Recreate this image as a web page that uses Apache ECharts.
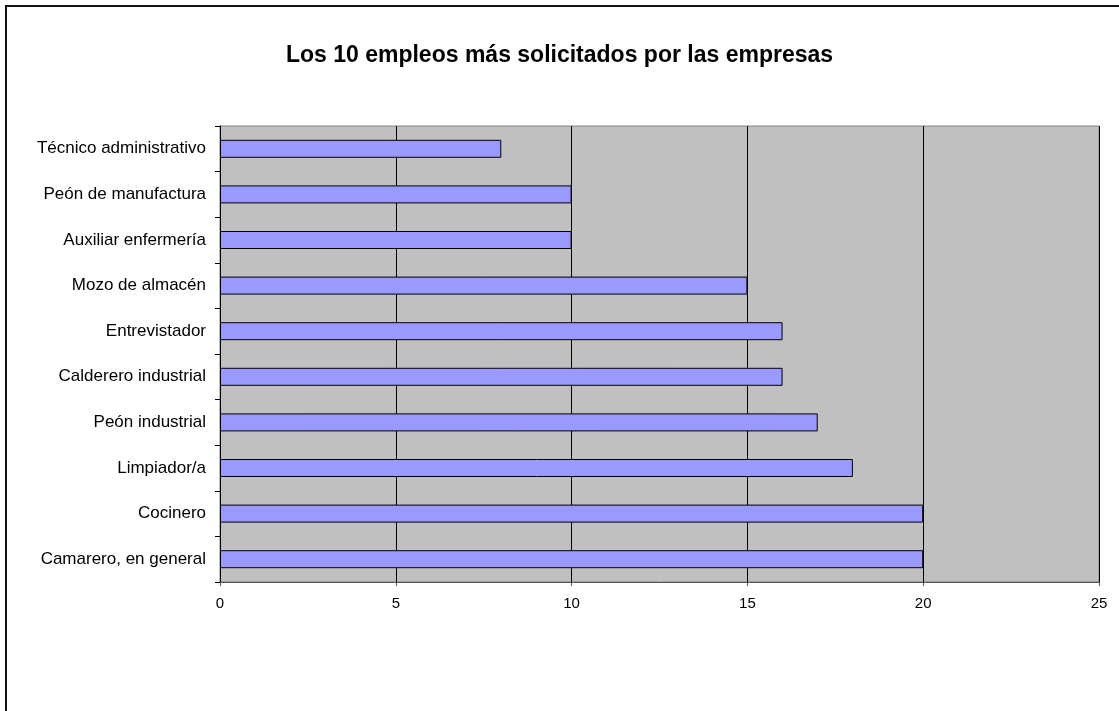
<!DOCTYPE html>
<html>
<head>
<meta charset="utf-8">
<script src="https://cdn.jsdelivr.net/npm/echarts@6/dist/echarts.min.js"></script>
<style>
  html, body { margin: 0; padding: 0; background: #fff; }
  #chart { width: 1119px; height: 711px; }
</style>
</head>
<body>
<div id="chart"></div>
<script>
// categories listed bottom to top, as the category axis draws them
const jobs = [
  'Camarero, en general',
  'Cocinero',
  'Limpiador/a',
  'Peón industrial',
  'Calderero industrial',
  'Entrevistador',
  'Mozo de almacén',
  'Auxiliar enfermería',
  'Peón de manufactura',
  'Técnico administrativo'
];
const requests = [20, 20, 18, 17, 16, 16, 15, 10, 10, 8];

const chart = echarts.init(document.getElementById('chart'));

chart.setOption({
  backgroundColor: '#fff',
  animation: false,
  textStyle: { fontFamily: 'Liberation Sans, Arial, sans-serif' },
  title: {
    text: 'Los 10 empleos más solicitados por las empresas',
    left: 'center',
    top: 39,
    textStyle: { fontSize: 23, fontWeight: 'bold', color: '#000' }
  },
  graphic: [{
    type: 'rect',
    shape: { x: 6, y: 6, width: 1300, height: 900 },
    style: { fill: 'none', stroke: '#111', lineWidth: 2 },
    silent: true
  }],
  grid: {
    left: 220,
    top: 126,
    width: 879,
    height: 456,
    show: true,
    backgroundColor: '#C0C0C0',
    borderColor: '#808080',
    borderWidth: 1
  },
  xAxis: {
    type: 'value',
    min: 0,
    max: 25,
    interval: 5,
    axisLine: { show: true, lineStyle: { color: '#555', width: 1 } },
    axisTick: { show: true, length: 4, lineStyle: { color: '#555' } },
    axisLabel: { color: '#000', fontSize: 15, margin: 14 },
    splitLine: { show: true, lineStyle: { color: '#000', width: 1 } }
  },
  yAxis: {
    type: 'category',
    data: jobs,
    axisLine: { show: true, lineStyle: { color: '#000', width: 1 } },
    axisTick: { show: true, length: 5, lineStyle: { color: '#000' } },
    axisLabel: { color: '#000', fontSize: 17, margin: 14 },
    splitLine: { show: false }
  },
  series: [{
    type: 'bar',
    data: requests,
    barWidth: 18,
    itemStyle: { color: '#9999FF', borderColor: '#000', borderWidth: 1 }
  }]
});
</script>
</body>
</html>
